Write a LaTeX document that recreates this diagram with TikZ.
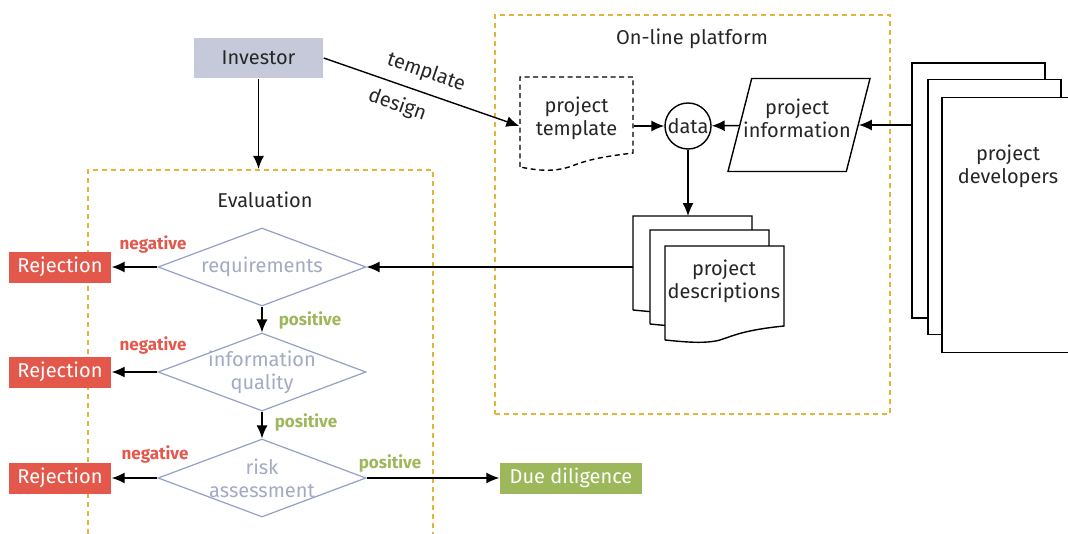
\documentclass[tikz,border=0pt]{standalone}
\usepackage{fontspec}
\setmainfont{Fira Sans}
\usetikzlibrary{shapes.geometric,arrows.meta}

\definecolor{investorgray}{HTML}{C6C9DA}
\definecolor{rejectred}{HTML}{E4584B}
\definecolor{duegreen}{HTML}{9DB85B}
\definecolor{diamondblue}{HTML}{93A0C8}
\definecolor{diamondtext}{HTML}{A3AAC4}
\definecolor{boxorange}{HTML}{E2B43A}

\begin{document}
\begin{tikzpicture}[
	x=0.5pt, y=-0.5pt,
	font=\fontsize{10}{11.5}\selectfont, text=black!85,
	line width=0.7pt,
	arr/.style={-{Latex[length=6.5pt, width=5.5pt]}},
	dashbox/.style={rectangle, draw=boxorange, line width=1.1pt, dash pattern=on 2.5pt off 2pt, inner sep=0pt},
	investorbox/.style={rectangle, fill=investorgray, inner sep=0pt, minimum width=64.5pt, minimum height=20pt},
	decision/.style={diamond, draw=diamondblue, line width=0.6pt, fill=white, inner sep=0pt, minimum width=104pt, minimum height=39pt},
	decisiontext/.style={text=diamondtext, align=center, inner sep=0pt},
	rejectbox/.style={rectangle, fill=rejectred, text=white, inner sep=0pt, minimum width=51pt, minimum height=15.5pt},
	acceptbox/.style={rectangle, fill=duegreen, text=white, inner sep=0pt, minimum width=71pt, minimum height=15.5pt},
	devpage/.style={rectangle, draw=black, fill=white, inner sep=0pt, minimum width=66.5pt, minimum height=127.5pt},
	neglabel/.style={text=rejectred, font=\fontsize{8.5}{10}\selectfont\bfseries},
	poslabel/.style={text=duegreen, font=\fontsize{8.5}{10}\selectfont\bfseries}
]
\useasboundingbox (0,0) rectangle (1068,534);
\clip (0,0) rectangle (1068,534);

% frames
\node[dashbox, minimum width=172.5pt, minimum height=200pt] (evalbox) at (260.5,370) {};
\node[dashbox, minimum width=197.5pt, minimum height=199.5pt] (platform) at (692.5,214.5) {};
\node (evalTitle) at (265,200) {Evaluation};
\node (platformTitle) at (692,39) {On-line platform};

\node[investorbox] (investor) at (258.5,58) {Investor};

% on-line platform
\node[inner sep=0pt, minimum width=56.5pt, minimum height=38pt, align=center] (template) at (576.5,118) {project\\template};
\draw[dash pattern=on 2.5pt off 1.8pt] (520,167) -- (520,77) -- (633,77) -- (633,153)
	.. controls (610,156) and (592,158) .. (572,166) .. controls (555,172) and (540,171) .. (520,167);
\node[circle, draw, fill=white, inner sep=0pt, minimum size=23pt] (data) at (688,126) {data};
\node[trapezium, trapezium left angle=77, trapezium right angle=103, trapezium stretches=true, draw, inner sep=0pt,
	minimum width=71pt, minimum height=46.5pt] (info) at (799,125) {\phantom{x}};
\node[align=center] (infoText) at (797,118) {project\\information};

% project descriptions
\draw[fill=white] (633,310) -- (633,216) -- (752,216) -- (752,296)
	.. controls (713,300) and (703,305) .. (688,310) .. controls (673,314) and (653,312) .. (633,310);
\draw[fill=white] (650,324) -- (650,230) -- (769,230) -- (769,310)
	.. controls (730,314) and (720,319) .. (705,324) .. controls (690,328) and (670,326) .. (650,324);
\draw[fill=white] (665,340) -- (665,246) -- (784,246) -- (784,326)
	.. controls (745,330) and (735,335) .. (720,340) .. controls (705,344) and (685,342) .. (665,340);
\node[align=center] (descText) at (724,281) {project\\descriptions};
\coordinate (descTop) at (688,216);
\coordinate (descLeft) at (633,267);

% project developers
\node[devpage] (devBack) at (978.5,190.5) {};
\node[devpage] (devMid) at (994.5,207) {};
\node[devpage] (devFront) at (1008.5,225) {};
\node[align=center] (devText) at (1008,166) {project\\developers};

% evaluation
\node[decision] (req) at (262,267) {};
\node[decisiontext] (reqText) at (req) {requirements};
\node[decision] (iq) at (262,372) {};
\node[decisiontext] (iqText) at (iq) {information\\quality};
\node[decision] (risk) at (262,478) {};
\node[decisiontext] (riskText) at (risk) {risk\\assessment};

\node[rejectbox] (rej1) at (60,267) {Rejection};
\node[rejectbox] (rej2) at (60,372) {Rejection};
\node[rejectbox] (rej3) at (60,478) {Rejection};
\node[acceptbox] (due) at (571,478) {Due diligence};

\node[neglabel] (neg1) at (153,244) {negative};
\node[neglabel] (neg2) at (153,345) {negative};
\node[neglabel] (neg3) at (155,454) {negative};
\node[poslabel] (pos1) at (310,320) {positive};
\node[poslabel] (pos2) at (306,422) {positive};
\node[poslabel] (pos3) at (390,463) {positive};

% connectors
\draw[arr] (investor) -- (investor.south |- evalbox.north);
\draw[arr] (investor.east) -- (template.west |- data.west)
	node[pos=0.49, sloped, above=1.5pt] (lblTemplate) {template}
	node[pos=0.41, sloped, below=1.5pt] (lblDesign) {design};
\draw[arr] (template.east |- data.west) -- (data.west);
\draw[arr] (info) -- (data);
\draw[arr] (info.east -| devBack.west) -- (info.east);
\draw[arr] (data) -- (descTop);
\draw[arr] (descLeft) -- (req.east);
\draw[arr] (req) -- (rej1);
\draw[arr] (req) -- (iq);
\draw[arr] (iq) -- (rej2);
\draw[arr] (iq) -- (risk);
\draw[arr] (risk) -- (rej3);
\draw[arr] (risk) -- (due);
\end{tikzpicture}
\end{document}
